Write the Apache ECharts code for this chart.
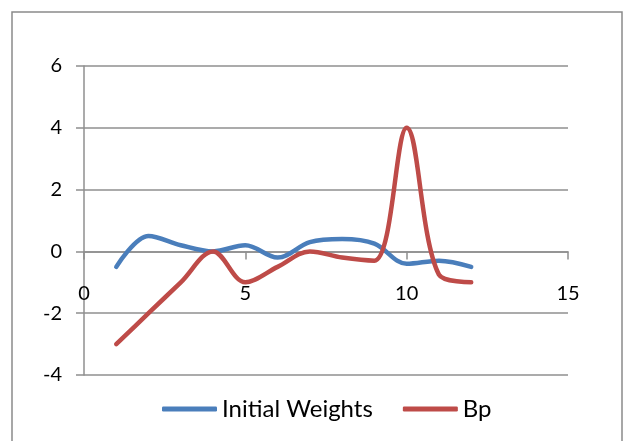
<!DOCTYPE html>
<html>
<head>
<meta charset="utf-8">
<script src="https://cdn.jsdelivr.net/npm/echarts@6/dist/echarts.min.js"></script>
<style>html,body{margin:0;padding:0;background:#fff}#c{width:624px;height:441px}</style>
</head>
<body>
<div id="c"></div>
<script>
const xValues = [1, 2, 3, 4, 5, 6, 7, 8, 9, 10, 11, 12];
const initialWeights = [-0.5, 0.5, 0.2, 0.0, 0.2, -0.2, 0.3, 0.4, 0.25, -0.4, -0.3, -0.5];
const bp = [-3, -2, -1, 0, -1, -0.5, 0, -0.2, -0.3, 4, -0.75, -1];
const seriesNames = ['Initial Weights', 'Bp'];

const chart = echarts.init(document.getElementById('c'), null, {renderer: 'canvas'});
const font = 'Lato, "Open Sans", sans-serif';
const gray = '#8f8f8f';
const gridTop = 66, gridBottom = 66, H = 441;
const yMin = -4, yMax = 6;
const plotH = H - gridTop - gridBottom;
const zeroOffset = -(plotH * (0 - yMin) / (yMax - yMin));
chart.setOption({
  animation: false,
  backgroundColor: '#fff',
  graphic: [{
    type: 'rect', shape: {x: 12, y: 12, width: 610, height: 440},
    style: {fill: 'none', stroke: '#8a8a8a', lineWidth: 1.5}, silent: true
  }],
  grid: {left: 84, right: 56, top: gridTop, bottom: gridBottom},
  legend: {
    left: 157, top: 392,
    itemWidth: 55, itemHeight: 5, itemGap: 30,
    icon: 'roundRect',
    textStyle: {fontFamily: font, fontSize: 24, color: '#000', padding: [0, 0, 0, 0]},
    data: seriesNames
  },
  xAxis: {
    type: 'value', min: 0, max: 15, interval: 5,
    position: 'bottom', offset: zeroOffset,
    axisLine: {onZero: false, lineStyle: {color: gray, width: 1.5}},
    axisTick: {show: true, length: 8, lineStyle: {color: gray, width: 1.5}},
    axisLabel: {margin: 32, fontFamily: font, fontSize: 20, color: '#000'},
    splitLine: {show: false}
  },
  yAxis: {
    type: 'value', min: yMin, max: yMax, interval: 2,
    axisLine: {show: true, onZero: false, lineStyle: {color: gray, width: 1.5}},
    axisTick: {show: true, length: 8, lineStyle: {color: gray, width: 1.5}},
    axisLabel: {margin: 22, fontFamily: font, fontSize: 20, color: '#000'},
    splitLine: {show: true, lineStyle: {color: gray, width: 1.5}}
  },
  series: [
    {
      name: seriesNames[0], type: 'line', smooth: 0.35, showSymbol: false,
      color: '#4a7ebb',
      lineStyle: {width: 4.5, color: '#4a7ebb', cap: 'round', join: 'round'},
      data: xValues.map((x, i) => [x, initialWeights[i]])
    },
    {
      name: seriesNames[1], type: 'line', smooth: 0.35, showSymbol: false,
      color: '#be4b48',
      lineStyle: {width: 4.5, color: '#be4b48', cap: 'round', join: 'round'},
      data: xValues.map((x, i) => [x, bp[i]])
    }
  ]
});
</script>
</body>
</html>
